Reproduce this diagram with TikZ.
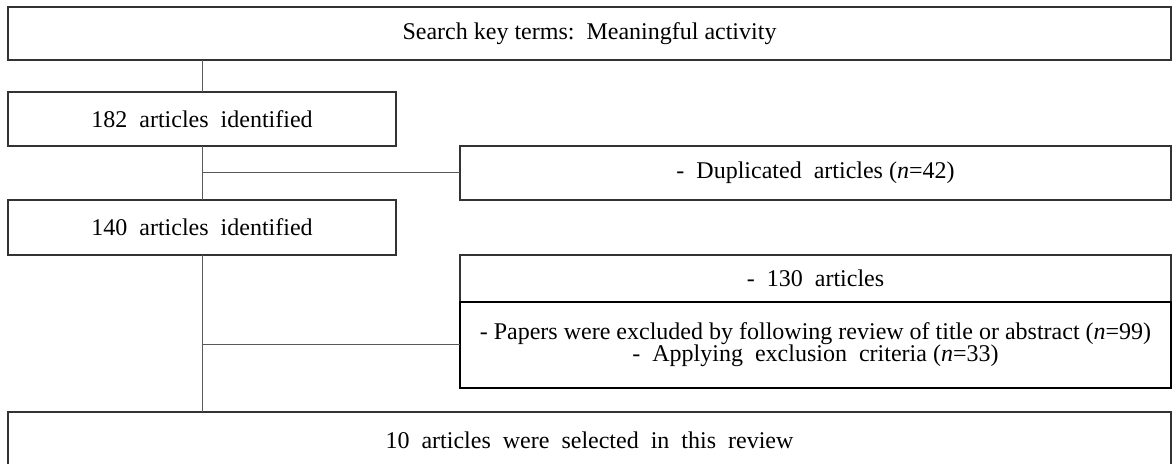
\documentclass[tikz,border=0pt]{standalone}
\usepackage{fontspec}
\setmainfont{Liberation Serif}
\usetikzlibrary{positioning,calc}

\begin{document}
\begin{tikzpicture}[>=stealth,
    box/.style={draw=black!80, line width=0.6pt, inner sep=0pt, outer sep=0pt,
      minimum height=27pt, font=\fontsize{12}{11}\selectfont, align=center},
    link/.style={draw=black!65, line width=0.5pt}]
\useasboundingbox (0,0) rectangle (587pt,-232pt);
\clip (0,0) rectangle (587pt,-232pt);
\node[box, minimum width=581.5pt, minimum height=26.5pt, anchor=north west] (search) at (4pt,-3.5pt) {Search key terms:\ \ Meaningful activity};
\node[box, minimum width=194pt, below right=16pt and 0pt of search.south west] (found182) {182\ \ articles\ \ identified};
\node[box, minimum width=355.5pt, below right=0pt and 32pt of found182.south east] (dupl) {-\ \ Duplicated\ \ articles\ (\textit{n}=42)};
\node[box, minimum width=194pt, minimum height=27.5pt, anchor=north west] (found140) at (dupl.south -| found182.west) {140\ \ articles\ \ identified};
\node[box, minimum width=355.5pt, minimum height=23.5pt, anchor=north west] (excl) at (dupl.west |- found140.south) {-\ \ 130\ \ articles};
\node[box, draw=black, line width=0.9pt, minimum width=355.5pt, minimum height=43pt, below=0pt of excl] (reasons)
  {-\ Papers\ were\ excluded\ by\ following\ review\ of\ title\ or\ abstract\ (\textit{n}=99)\\
   -\ \ Applying\ \ exclusion\ \ criteria\ (\textit{n}=33)};
\node[box, minimum width=581.5pt, minimum height=28pt, anchor=north west] (chosen) at ($(reasons.south -| search.west)+(0,-12pt)$) {10\ \ articles\ \ were\ \ selected\ \ in\ \ this\ \ review};
% connectors
\draw[link] (found182.north) -- (found182.north |- search.south);
\draw[link] (found182.south) -- (found140.north);
\draw[link] (found182.south |- dupl.west) -- (dupl.west);
\draw[link] (found140.south) -- (found140.south |- chosen.north);
\draw[link] (found140.south |- reasons.west) -- (reasons.west);
\end{tikzpicture}
\end{document}
